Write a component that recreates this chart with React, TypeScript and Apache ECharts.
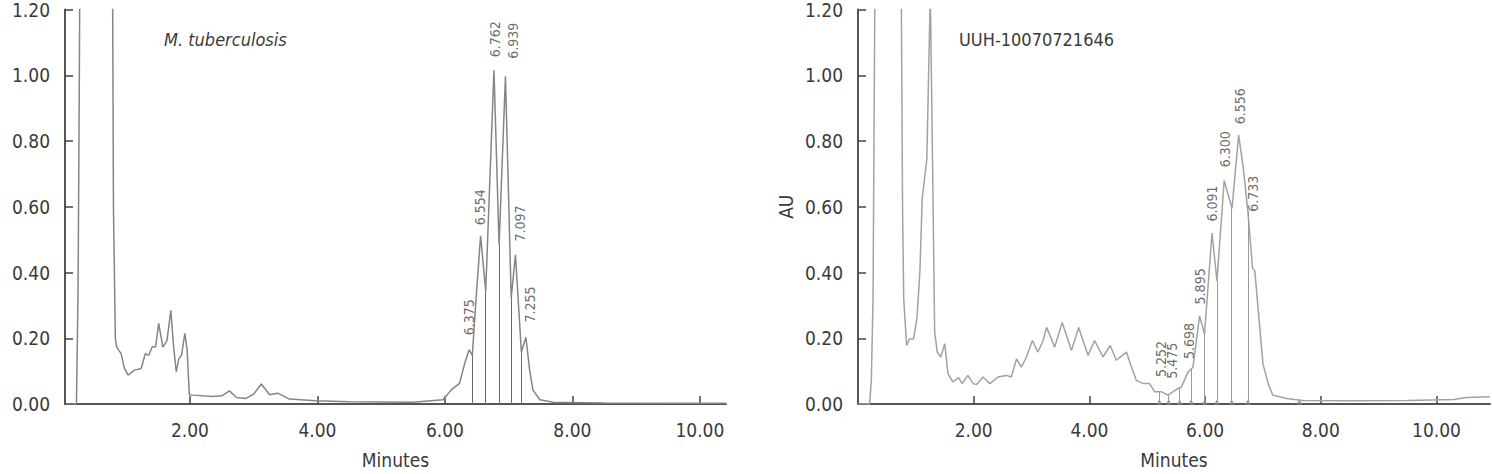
import React, { useEffect, useRef } from 'react';
import * as echarts from 'echarts';

const FONT = "'DejaVu Sans Condensed', 'Liberation Sans Narrow', 'DejaVu Sans', sans-serif";

// ---- Left panel: M. tuberculosis ----
const leftTime = [0.05, 0.22, 0.245, 0.265, 0.29, 0.4, 0.7, 0.78, 0.8, 0.83, 0.85, 0.92, 0.97, 1.03, 1.13, 1.235, 1.3, 1.355, 1.41, 1.46, 1.51, 1.575, 1.64, 1.7, 1.74, 1.785, 1.826, 1.868, 1.92, 1.957, 1.99, 2.05, 2.36, 2.5, 2.62, 2.73, 2.88, 3.0, 3.12, 3.25, 3.38, 3.56, 3.98, 4.5, 5.0, 5.5, 5.97, 6.1, 6.23, 6.31, 6.38, 6.43, 6.49, 6.56, 6.64, 6.77, 6.85, 6.95, 7.04, 7.107, 7.2, 7.27, 7.33, 7.38, 7.49, 7.7, 8.5, 9.5, 10.41];
const leftAU = [0, 0, 0.35, 1.0, 2.0, 3.0, 3.0, 1.6, 0.6, 0.2, 0.173, 0.153, 0.11, 0.088, 0.103, 0.108, 0.153, 0.148, 0.175, 0.173, 0.245, 0.173, 0.193, 0.285, 0.183, 0.098, 0.138, 0.148, 0.215, 0.163, 0.028, 0.027, 0.023, 0.025, 0.04, 0.02, 0.017, 0.03, 0.061, 0.028, 0.033, 0.015, 0.01, 0.007, 0.006, 0.005, 0.013, 0.043, 0.063, 0.123, 0.165, 0.148, 0.323, 0.512, 0.343, 1.015, 0.484, 0.997, 0.323, 0.454, 0.158, 0.203, 0.103, 0.043, 0.013, 0.005, 0.003, 0.002, 0.002];
const leftDropTimes = [6.43, 6.64, 6.85, 7.04, 7.2];
const leftDropHeights = [0.148, 0.343, 0.484, 0.323, 0.158];
const leftPeakNames = ['6.375', '6.554', '6.762', '6.939', '7.097', '7.255'];
const leftPeakLabelX = [6.38, 6.546, 6.78, 7.07, 7.175, 7.33];
const leftPeakLabelY = [0.209, 0.544, 1.055, 1.05, 0.494, 0.248];

// ---- Right panel: UUH-10070721646 ----
const rightTime = [0, 0.2, 0.23, 0.26, 0.29, 0.31, 0.7, 0.75, 0.77, 0.79, 0.84, 0.89, 0.96, 1.02, 1.07, 1.11, 1.15, 1.19, 1.22, 1.25, 1.29, 1.325, 1.37, 1.43, 1.5, 1.555, 1.64, 1.74, 1.8, 1.9, 1.99, 2.05, 2.16, 2.28, 2.42, 2.565, 2.65, 2.74, 2.825, 2.91, 3.015, 3.11, 3.2, 3.26, 3.4, 3.53, 3.69, 3.815, 3.975, 4.09, 4.235, 4.36, 4.465, 4.64, 4.71, 4.81, 4.93, 5.04, 5.13, 5.245, 5.36, 5.5, 5.59, 5.705, 5.79, 5.905, 5.99, 6.12, 6.205, 6.33, 6.465, 6.58, 6.655, 6.74, 6.82, 6.86, 6.94, 7.0, 7.09, 7.17, 7.41, 7.69, 8.5, 9.5, 10.3, 10.52, 10.92];
const rightAU = [0, 0, 0.07, 0.32, 1.2, 2.5, 2.5, 1.2, 0.6, 0.32, 0.178, 0.198, 0.198, 0.263, 0.404, 0.625, 0.685, 0.746, 1.0, 1.25, 0.72, 0.22, 0.158, 0.143, 0.183, 0.092, 0.067, 0.08, 0.062, 0.087, 0.062, 0.059, 0.082, 0.062, 0.082, 0.087, 0.082, 0.137, 0.112, 0.143, 0.193, 0.158, 0.193, 0.233, 0.173, 0.248, 0.163, 0.233, 0.148, 0.193, 0.143, 0.178, 0.133, 0.158, 0.122, 0.072, 0.062, 0.062, 0.037, 0.037, 0.027, 0.044, 0.052, 0.097, 0.112, 0.268, 0.213, 0.52, 0.374, 0.68, 0.595, 0.818, 0.725, 0.585, 0.414, 0.404, 0.243, 0.122, 0.062, 0.027, 0.017, 0.011, 0.01, 0.011, 0.014, 0.02, 0.022];
const rightDropTimes = [5.21, 5.37, 5.56, 5.76, 5.99, 6.205, 6.46, 6.74];
const rightDropHeights = [0.037, 0.027, 0.05, 0.105, 0.213, 0.374, 0.597, 0.585];
const rightMarkerTimes = [5.21, 5.37, 5.56, 5.76, 5.99, 6.205, 6.46, 6.74, 7.63];
const rightPeakNames = ['5.252', '5.475', '5.698', '5.895', '6.091', '6.300', '6.556', '6.733'];
const rightPeakLabelX = [5.245, 5.42, 5.725, 5.906, 6.115, 6.34, 6.595, 6.825];
const rightPeakLabelY = [0.082, 0.077, 0.137, 0.303, 0.555, 0.72, 0.851, 0.585];

const xTickValues = [2, 4, 6, 8, 10];

const TEXT = '#3a3a3a';
const zip = (a: number[], b: number[]) => a.map((v, i) => [v, b[i]]);

function xAxis(gridIndex: number, min: number, max: number) {
  return {
    type: 'value', gridIndex, min, max,
    name: 'Minutes', nameLocation: 'middle', nameGap: 46,
    nameTextStyle: { fontFamily: FONT, fontSize: 19, color: TEXT },
    axisLine: { show: true, onZero: false, lineStyle: { color: '#555', width: 2 } },
    axisTick: { show: true, inside: true, length: 8, customValues: xTickValues, lineStyle: { color: '#444', width: 1.5 } },
    axisLabel: { show: true, customValues: xTickValues, margin: 16, fontFamily: FONT, fontSize: 19, color: TEXT, formatter: (v: number) => v.toFixed(2) },
    splitLine: { show: false },
  };
}

function yAxis(gridIndex: number, name: string) {
  return {
    type: 'value', gridIndex, min: 0, max: 1.2, interval: 0.2,
    name, nameLocation: 'middle', nameGap: 63, nameRotate: 90,
    nameTextStyle: { fontFamily: FONT, fontSize: 19, color: TEXT },
    axisLine: { show: true, lineStyle: { color: '#555', width: 2 } },
    axisTick: { show: true, inside: true, length: 8, lineStyle: { color: '#444', width: 1.5 } },
    axisLabel: { show: true, margin: 15, fontFamily: FONT, fontSize: 19, color: TEXT, formatter: (v: number) => v.toFixed(2) },
    splitLine: { show: false },
  };
}

function traceSeries(idx: number, t: number[], au: number[], color: string, drops: number[], dropH: number[], dropColor: string) {
  return {
    type: 'line', xAxisIndex: idx, yAxisIndex: idx,
    data: zip(t, au), showSymbol: false, symbol: 'none', clip: true,
    lineStyle: { color, width: 1.5 },
    markLine: {
      silent: true, symbol: ['none', 'none'], animation: false,
      label: { show: false },
      lineStyle: { color: dropColor, width: 1, type: 'solid' },
      data: drops.map((x, i) => [{ coord: [x, 0] }, { coord: [x, dropH[i]] }]),
    },
  };
}

function labelSeries(idx: number, xs: number[], ys: number[], names: string[]) {
  return {
    type: 'scatter', xAxisIndex: idx, yAxisIndex: idx,
    symbolSize: 0, silent: true,
    data: xs.map((x, i) => ({ value: [x, ys[i]], name: names[i] })),
    label: {
      show: true, position: 'top', distance: 0, rotate: 90,
      align: 'left', verticalAlign: 'middle',
      formatter: '{b}', fontFamily: FONT, fontSize: 14, color: '#444',
    },
  };
}

export default function App() {
  const ref = useRef<HTMLDivElement>(null);
  useEffect(() => {
    if (!ref.current) return;
    const chart = echarts.init(ref.current, undefined, { renderer: 'svg' });
    chart.setOption({
      animation: false,
      backgroundColor: '#fff',
      title: [
        { text: 'M. tuberculosis', left: 159, top: 25, textStyle: { fontFamily: FONT, fontSize: 18, fontStyle: 'italic', fontWeight: 'normal', color: TEXT } },
        { text: 'UUH-10070721646', left: 954, top: 25, textStyle: { fontFamily: FONT, fontSize: 18, fontWeight: 'normal', color: TEXT } },
      ],
      grid: [
        { left: 65, top: 8.5, width: 661, height: 399 },
        { left: 858, top: 9.3, width: 632, height: 398 },
      ],
      xAxis: [xAxis(0, 0.04, 10.41), xAxis(1, 0, 10.925)],
      yAxis: [yAxis(0, ''), yAxis(1, 'AU')],
      series: [
        traceSeries(0, leftTime, leftAU, '#858585', leftDropTimes, leftDropHeights, '#6a6a6a'),
        labelSeries(0, leftPeakLabelX, leftPeakLabelY, leftPeakNames),
        traceSeries(1, rightTime, rightAU, '#a2a2a2', rightDropTimes, rightDropHeights, '#9a9a9a'),
        labelSeries(1, rightPeakLabelX, rightPeakLabelY, rightPeakNames),
        {
          type: 'scatter', xAxisIndex: 1, yAxisIndex: 1, silent: true,
          symbol: 'triangle', symbolSize: [6, 5], symbolOffset: [0, -2],
          itemStyle: { color: '#888' },
          data: rightMarkerTimes.map((x) => [x, 0]),
        },
      ],
    });
    return () => chart.dispose();
  }, []);
  return <div ref={ref} style={{ position: 'fixed', left: 0, top: 0, width: 1492, height: 474 }} />;
}
